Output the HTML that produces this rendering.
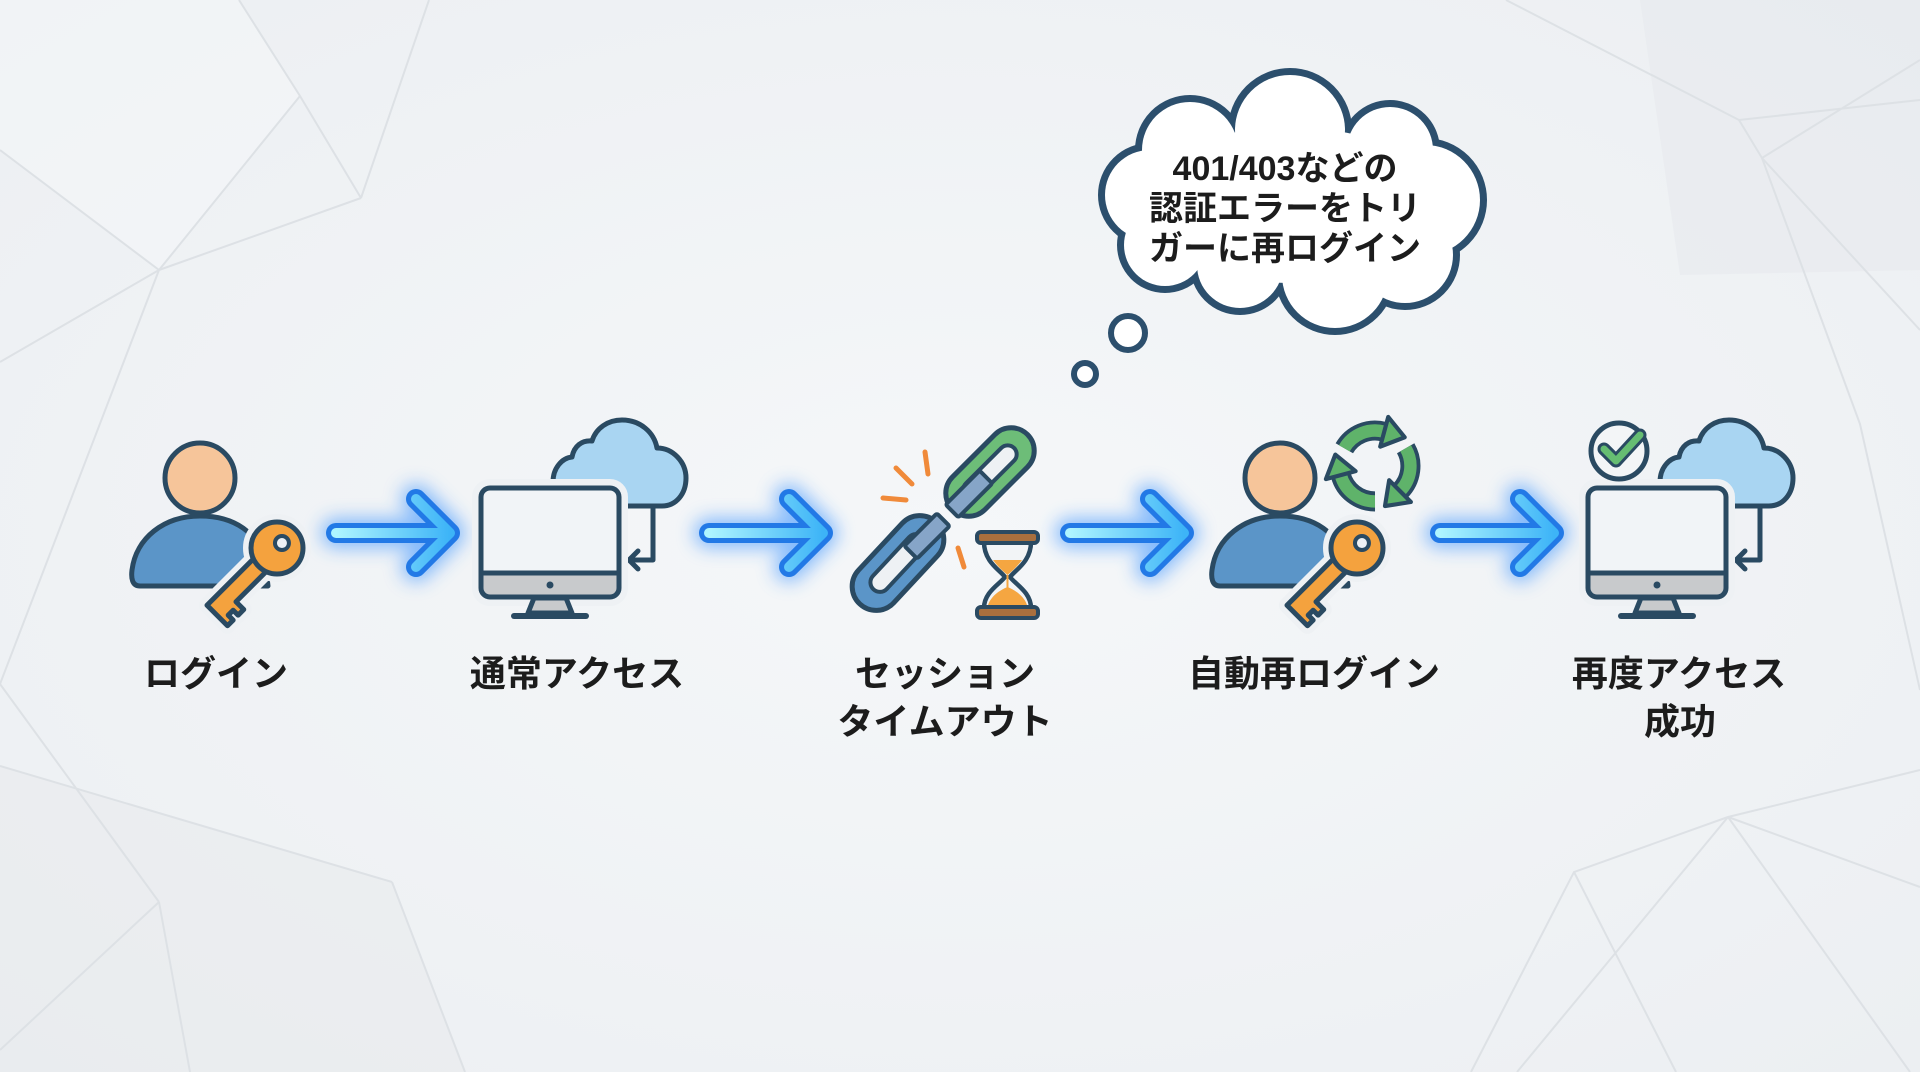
<!DOCTYPE html>
<html><head><meta charset="utf-8">
<style>
html,body{margin:0;padding:0;width:1920px;height:1072px;overflow:hidden;background:#eef1f4;}
svg{display:block}
text{font-family:"Liberation Sans","Noto Sans CJK JP",sans-serif;font-weight:700;fill:#1c1c1c}
</style></head><body>
<svg width="1920" height="1072" viewBox="0 0 1920 1072" xmlns="http://www.w3.org/2000/svg" xmlns:xlink="http://www.w3.org/1999/xlink">
<defs>
 <radialGradient id="bgg" cx="50%" cy="50%" r="70%">
  <stop offset="0" stop-color="#f5f7f9"/>
  <stop offset="1" stop-color="#eceff2"/>
 </radialGradient>
 <linearGradient id="ag" x1="0" y1="0" x2="1" y2="0">
  <stop offset="0" stop-color="#aef5ff"/>
  <stop offset="1" stop-color="#3db4f7"/>
 </linearGradient>
 <filter id="glow" x="-30%" y="-60%" width="160%" height="220%"><feGaussianBlur stdDeviation="9"/></filter>

 <g id="arrow">
  <path d="M-116,533 H-4 M-36,499 L-2,533 L-36,567" fill="none" stroke="#2f8cff" stroke-width="30" stroke-linecap="round" stroke-linejoin="round" opacity="0.55" filter="url(#glow)"/>
  <path d="M-116,533 H-4 M-36,499 L-2,533 L-36,567" fill="none" stroke="#2279e6" stroke-width="20" stroke-linecap="round" stroke-linejoin="round"/>
  <path d="M-116,533 H-4 M-36,499 L-2,533 L-36,567" fill="none" stroke="url(#ag)" stroke-width="10" stroke-linecap="round" stroke-linejoin="round"/>
 </g>

 <g id="person">
  <path d="M140,586 C132,586 131,578 132,570 C136,538 164,516 200,516 C236,516 258,534 265,560 L268,586 Z" fill="#5b95c8" stroke="#2a4a62" stroke-width="5" stroke-linejoin="round"/>
  <circle cx="200" cy="478" r="35" fill="#f6c59a" stroke="#2a4a62" stroke-width="5"/>
  <g transform="translate(277,548) rotate(135)">
   <path d="M12,9 L90,9 L90,-20 L82,-20 L82,-13 L75,-13 L75,-20 L67,-20 L67,-9 L12,-9 Z" fill="#eef1f4" stroke="#eef1f4" stroke-width="16" stroke-linejoin="round"/>
   <circle r="26" fill="#eef1f4" stroke="#eef1f4" stroke-width="16"/>
   <path d="M12,9 L90,9 L90,-20 L82,-20 L82,-13 L75,-13 L75,-20 L67,-20 L67,-9 L12,-9 Z" fill="#f4a23e" stroke="#2a4a62" stroke-width="5" stroke-linejoin="round"/>
   <circle r="26" fill="#f4a23e" stroke="#2a4a62" stroke-width="5"/>
   <circle cx="-7" cy="0" r="7" fill="#eef1f4" stroke="#2a4a62" stroke-width="4"/>
  </g>
 </g>

 <g id="mon">
  <path d="M553,506 L553,482 C553,468 562,458 572,457 C574,446 582,440 592,441 C596,428 608,420 622,420 C640,420 654,432 657,448 C673,448 686,462 686,478 C686,494 676,506 662,506 Z" fill="#a9d5f2" stroke="#2a4a62" stroke-width="5" stroke-linejoin="round"/>
  <path d="M653,506 V560 H629" fill="none" stroke="#2a4a62" stroke-width="5" stroke-linejoin="round"/>
  <path d="M638,551 L629,560 L638,569" fill="none" stroke="#2a4a62" stroke-width="5" stroke-linecap="round" stroke-linejoin="round"/>
  <rect x="481" y="488" width="138" height="109" rx="9" fill="#eef1f4" stroke="#eef1f4" stroke-width="18"/>
  <rect x="481" y="488" width="138" height="109" rx="9" fill="#f1f4f7"/>
  <rect x="483" y="573" width="134" height="22" fill="#c8cacc"/>
  <line x1="481" y1="573" x2="619" y2="573" stroke="#2a4a62" stroke-width="5"/>
  <rect x="481" y="488" width="138" height="109" rx="9" fill="none" stroke="#2a4a62" stroke-width="5"/>
  <circle cx="550" cy="585" r="3.5" fill="#2a4a62"/>
  <polygon points="534,598 566,598 572,613 528,613" fill="#c8cacc" stroke="#2a4a62" stroke-width="5" stroke-linejoin="round"/>
  <path d="M514,616 H586" stroke="#2a4a62" stroke-width="6" stroke-linecap="round"/>
 </g>

 <g id="rarr">
  <path d="M-26,-15 A30,30 0 0 1 7.8,-29" fill="none" stroke="#2a4a62" stroke-width="17"/>
  <path d="M-26,-15 A30,30 0 0 1 7.8,-29" fill="none" stroke="#5fb36a" stroke-width="10.5"/>
  <polygon points="11.2,-41.6 25.2,-24.3 4.4,-16.4" fill="#5fb36a" stroke="#2a4a62" stroke-width="3.5" stroke-linejoin="round"/>
 </g>
</defs>

<!-- background -->
<rect width="1920" height="1072" fill="url(#bgg)"/>
<polygon points="0,766 392,882 465,1072 0,1072" fill="#e6e9ec" opacity="0.45"/>
<polygon points="1640,0 1920,0 1920,270 1680,275" fill="#e4e7ea" opacity="0.4"/>
<polygon points="0,0 239,0 300,96 159,270 0,150" fill="#f6f8fa" opacity="0.5"/>
<g stroke="#dde1e5" stroke-width="2" fill="none">
 <path d="M239,0 L300,96 L361,198 M429,0 L361,198 M300,96 L159,270 M361,198 L159,270 M0,150 L159,270 L0,362 M159,270 L0,684"/>
 <path d="M0,684 L159,902 M0,766 L392,882 M159,902 L0,1050 M159,902 L190,1072 M392,882 L465,1072"/>
 <path d="M1506,0 L1739,120 L1920,100 M1739,120 L1762,158 L1920,60 M1762,158 L1920,330 M1762,158 L1860,424 L1920,690"/>
 <path d="M1728,817 L1574,872 L1471,1072 M1574,872 L1676,1072 M1728,817 L1517,1072 M1728,817 L1920,887 M1728,817 L1910,1072 M1728,817 L1920,770"/>
</g>

<!-- thought bubble -->
<g stroke="#2c4f6d" stroke-width="14" fill="#2c4f6d">
 <circle cx="1190" cy="150" r="48"/>
 <circle cx="1290" cy="130" r="55"/>
 <circle cx="1390" cy="150" r="43"/>
 <circle cx="1425" cy="200" r="55"/>
 <circle cx="1405" cy="255" r="48"/>
 <circle cx="1335" cy="275" r="53"/>
 <circle cx="1240" cy="265" r="43"/>
 <circle cx="1165" cy="245" r="41"/>
 <circle cx="1150" cy="195" r="45"/>
</g>
<g fill="#ffffff">
 <circle cx="1190" cy="150" r="48"/>
 <circle cx="1290" cy="130" r="55"/>
 <circle cx="1390" cy="150" r="43"/>
 <circle cx="1425" cy="200" r="55"/>
 <circle cx="1405" cy="255" r="48"/>
 <circle cx="1335" cy="275" r="53"/>
 <circle cx="1240" cy="265" r="43"/>
 <circle cx="1165" cy="245" r="41"/>
 <circle cx="1150" cy="195" r="45"/>
 <ellipse cx="1290" cy="205" rx="150" ry="78"/>
</g>
<circle cx="1128" cy="333" r="17" fill="#ffffff" stroke="#2c4f6d" stroke-width="6"/>
<circle cx="1085" cy="374" r="11" fill="#ffffff" stroke="#2c4f6d" stroke-width="6"/>
<text x="1285" y="180" font-size="34" text-anchor="middle">401/403などの</text>
<text x="1285" y="220" font-size="34" text-anchor="middle">認証エラーをトリ</text>
<text x="1285" y="260" font-size="34" text-anchor="middle">ガーに再ログイン</text>

<!-- arrows -->
<use href="#arrow" xlink:href="#arrow" x="452"/>
<use href="#arrow" xlink:href="#arrow" x="825"/>
<use href="#arrow" xlink:href="#arrow" x="1186"/>
<use href="#arrow" xlink:href="#arrow" x="1556"/>

<!-- persons -->
<use href="#person" xlink:href="#person"/>
<use href="#person" xlink:href="#person" x="1080"/>

<!-- monitors -->
<use href="#mon" xlink:href="#mon"/>
<use href="#mon" xlink:href="#mon" x="1107"/>

<!-- check circle -->
<circle cx="1619" cy="451" r="28" fill="#f3f5f7" stroke="#2a4a62" stroke-width="5"/>
<path d="M1604,449 L1616,461 L1640,435" fill="none" stroke="#2a4a62" stroke-width="13" stroke-linecap="round" stroke-linejoin="round"/>
<path d="M1604,449 L1616,461 L1640,435" fill="none" stroke="#66bd72" stroke-width="7" stroke-linecap="round" stroke-linejoin="round"/>

<!-- recycle -->
<g transform="translate(1375,466) scale(1.18)">
 <use href="#rarr" xlink:href="#rarr"/>
 <use href="#rarr" xlink:href="#rarr" transform="rotate(120)"/>
 <use href="#rarr" xlink:href="#rarr" transform="rotate(240)"/>
</g>

<!-- chain -->
<g transform="translate(898,563) rotate(-47)">
 <rect x="-56" y="-24" width="112" height="48" rx="24" fill="#5b95c8" stroke="#2a4a62" stroke-width="5"/>
 <rect x="-36" y="-9.5" width="72" height="19" rx="9.5" fill="#eef1f4" stroke="#2a4a62" stroke-width="4"/>
</g>
<g transform="translate(990,472) rotate(-45)">
 <rect x="-53" y="-23" width="106" height="46" rx="23" fill="#6dbd78" stroke="#2a4a62" stroke-width="5"/>
 <rect x="-34" y="-9" width="68" height="18" rx="9" fill="#eef1f4" stroke="#2a4a62" stroke-width="4"/>
</g>
<rect x="-24" y="-9" width="48" height="18" rx="2" transform="translate(969,494) rotate(-45)" fill="#86a5c8" stroke="#2a4a62" stroke-width="4"/>
<rect x="-23" y="-9" width="46" height="18" rx="2" transform="translate(927,536) rotate(-45)" fill="#86a5c8" stroke="#2a4a62" stroke-width="4"/>
<g stroke="#f08a3a" stroke-width="5" stroke-linecap="round">
 <line x1="925" y1="452" x2="928" y2="474"/>
 <line x1="896" y1="468" x2="912" y2="484"/>
 <line x1="883" y1="498" x2="906" y2="500"/>
 <line x1="958" y1="548" x2="964" y2="567"/>
</g>

<!-- hourglass -->
<path d="M984,542 C984,562 1000,570 1005,577 C1000,584 984,592 984,608 L1031,608 C1031,592 1015,584 1010,577 C1015,570 1031,562 1031,542 Z" fill="#f2f4f6" stroke="#2a4a62" stroke-width="4.5" stroke-linejoin="round"/>
<path d="M993,560 L1022,560 C1017,567 1011,572 1007.5,575 C1004,572 998,567 993,560 Z" fill="#f5a641"/>
<path d="M988,605 C991,596 1000,590 1007.5,587 C1015,590 1024,596 1027,605 Z" fill="#f5a641"/>
<line x1="1007.5" y1="575" x2="1007.5" y2="588" stroke="#f5a641" stroke-width="2"/>
<rect x="977" y="532" width="61" height="11" rx="4" fill="#a86f3e" stroke="#2a4a62" stroke-width="4"/>
<rect x="977" y="607" width="61" height="11" rx="4" fill="#a86f3e" stroke="#2a4a62" stroke-width="4"/>

<!-- labels -->
<text x="216" y="686" font-size="36" text-anchor="middle">ログイン</text>
<text x="577" y="686" font-size="36" text-anchor="middle">通常アクセス</text>
<text x="945" y="686" font-size="36" text-anchor="middle">セッション</text>
<text x="945" y="734" font-size="36" text-anchor="middle">タイムアウト</text>
<text x="1314" y="686" font-size="36" text-anchor="middle">自動再ログイン</text>
<text x="1679" y="686" font-size="36" text-anchor="middle">再度アクセス</text>
<text x="1680" y="734" font-size="36" text-anchor="middle">成功</text>
</svg>
</body></html>
